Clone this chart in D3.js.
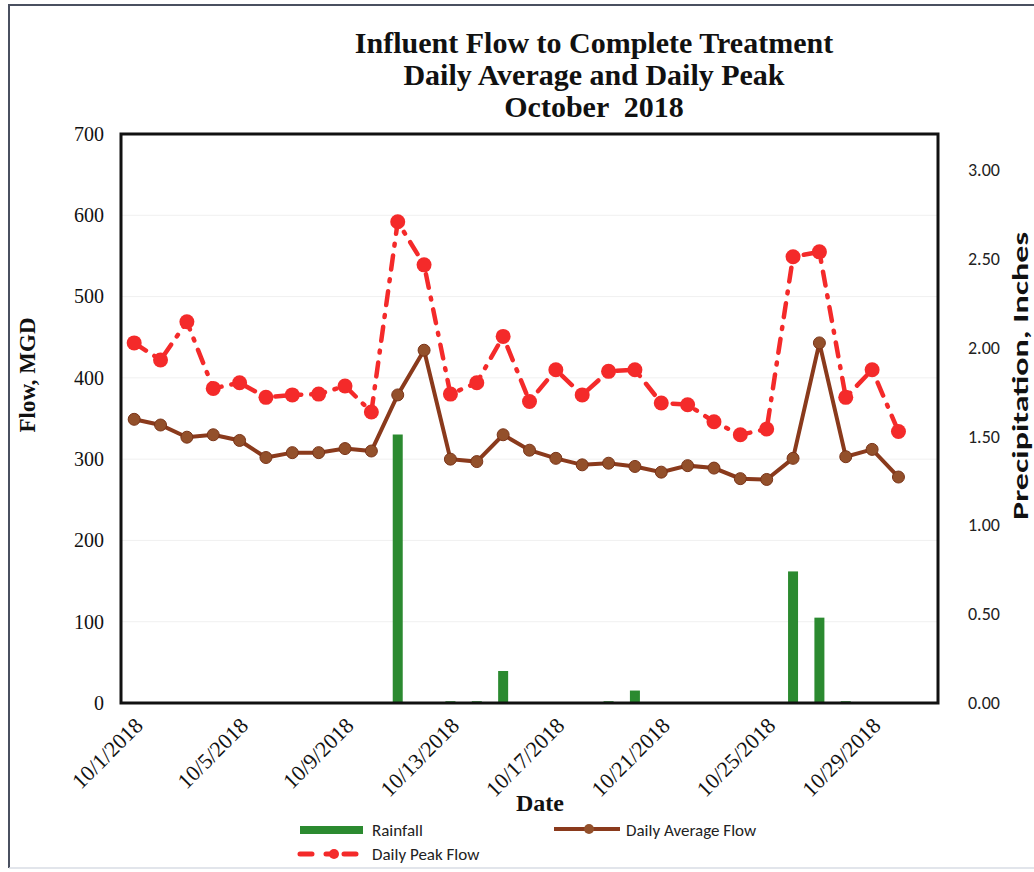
<!DOCTYPE html>
<html>
<head>
<meta charset="utf-8">
<script src="https://cdn.jsdelivr.net/npm/d3@7"></script>
<style>
  html, body { margin: 0; padding: 0; background: #fff; }
  svg { display: block; }
  text { white-space: pre; }
</style>
</head>
<body>
<svg id="chart" width="1034" height="872"></svg>
<script>
// ---- data ----
const dates = ["10/1/2018","10/2/2018","10/3/2018","10/4/2018","10/5/2018","10/6/2018","10/7/2018","10/8/2018","10/9/2018","10/10/2018",
  "10/11/2018","10/12/2018","10/13/2018","10/14/2018","10/15/2018","10/16/2018","10/17/2018","10/18/2018","10/19/2018","10/20/2018",
  "10/21/2018","10/22/2018","10/23/2018","10/24/2018","10/25/2018","10/26/2018","10/27/2018","10/28/2018","10/29/2018","10/30/2018","10/31/2018"];
const rainfall = [0,0,0,0,0,0,0,0,0,0, 1.51,0,0.01,0.01,0.18,0,0,0,0.01,0.07, 0,0,0,0,0,0.74,0.48,0.01,0,0,null];
const avgFlow = [349,342,327,330,323,302,308,308,313,310, 379,434,300,297,330,311,301,293,295,291, 284,292,289,276,275,301,443,303,312,278,null];
const peakFlow = [443,422,469,387,394,376,379,380,390,358, 592,539,380,394,451,371,410,379,408,410, 369,367,346,330,337,549,555,376,410,334,null];
const tickLabels = ["10/1/2018","10/5/2018","10/9/2018","10/13/2018","10/17/2018","10/21/2018","10/25/2018","10/29/2018"];
const leftTicks = [0,100,200,300,400,500,600,700];
const rightTicks = [0,0.5,1,1.5,2,2.5,3];
const titleLines = ["Influent Flow to Complete Treatment","Daily Average and Daily Peak","October  2018"];

// ---- layout ----
const svg = d3.select("#chart");
const L = 121, R = 938, T = 134, B = 703;
const serif = "'Liberation Serif','Times New Roman',serif";
const sans = "Carlito,'Liberation Sans Narrow','Open Sans',sans-serif";

const x = d3.scaleBand().domain(dates).range([L, R]).padding(0);
const yL = d3.scaleLinear().domain([0, 700]).range([B, T]);
const yR = d3.scaleLinear().domain([0, 3.2]).range([B, T]);
const cx = d => x(d) + x.bandwidth() / 2;

// outer frame
svg.append("path").attr("d", `M9,868 V5 H1040`).attr("fill", "none")
  .attr("stroke", "#4a5060").attr("stroke-width", 2);
svg.append("path").attr("d", `M9,868 H1040`).attr("fill", "none")
  .attr("stroke", "#d8dce4").attr("stroke-width", 1.5);

// title
svg.append("g").selectAll("text").data(titleLines).join("text")
  .attr("x", 594).attr("y", (d, i) => 53 + i * 32)
  .attr("text-anchor", "middle").attr("font-family", serif)
  .attr("font-weight", "bold").attr("font-size", 30).attr("fill", "#111")
  .text(d => d);

// gridlines
svg.append("g").selectAll("line").data(leftTicks.slice(1, -1)).join("line")
  .attr("x1", L).attr("x2", R).attr("y1", d => yL(d)).attr("y2", d => yL(d))
  .attr("stroke", "#f0f0f0").attr("stroke-width", 1);

// left axis
const axL = svg.append("g").attr("transform", `translate(${L},0)`)
  .call(d3.axisLeft(yL).tickValues(leftTicks).tickSize(0).tickPadding(17).tickFormat(d3.format("d")));
axL.select(".domain").remove();
axL.selectAll("text").attr("font-family", serif).attr("font-size", 20).attr("fill", "#111");

// right axis
const axR = svg.append("g").attr("transform", `translate(${R},0)`)
  .call(d3.axisRight(yR).tickValues(rightTicks).tickSize(0).tickPadding(30).tickFormat(d3.format(".2f")));
axR.select(".domain").remove();
axR.selectAll("text").attr("font-family", sans).attr("font-size", 18).attr("fill", "#222");

// x axis labels
const axX = svg.append("g").attr("transform", `translate(0,${B})`)
  .call(d3.axisBottom(x).tickValues(tickLabels).tickSize(0).tickPadding(0));
axX.select(".domain").remove();
axX.selectAll("text")
  .attr("font-family", serif).attr("font-size", 22).attr("fill", "#111")
  .attr("text-anchor", "end").attr("dy", 0)
  .attr("transform", "translate(10,24) rotate(-45)");

// axis titles
svg.append("text").attr("transform", "translate(35,375) rotate(-90)")
  .attr("text-anchor", "middle").attr("font-family", serif).attr("font-weight", "bold")
  .attr("font-size", 23).attr("fill", "#111").text("Flow, MGD");
svg.append("text").attr("transform", "translate(1028,376) rotate(-90)")
  .attr("text-anchor", "middle").attr("font-family", sans).attr("font-weight", "bold")
  .attr("font-size", 23).attr("textLength", 288).attr("lengthAdjust", "spacingAndGlyphs")
  .attr("fill", "#111").text("Precipitation, Inches");
svg.append("text").attr("x", 540).attr("y", 811).attr("text-anchor", "middle")
  .attr("font-family", serif).attr("font-weight", "bold").attr("font-size", 24)
  .attr("fill", "#111").text("Date");

// rainfall bars
const rainData = dates.map((d, i) => ({ d, v: rainfall[i] })).filter(o => o.v);
svg.append("g").selectAll("rect").data(rainData).join("rect")
  .attr("x", o => cx(o.d) - 5).attr("width", 10)
  .attr("y", o => yR(o.v)).attr("height", o => B - yR(o.v))
  .attr("fill", "#2b8a30");

// peak flow (dash-dot red)
const peakData = dates.map((d, i) => ({ d, v: peakFlow[i] })).filter(o => o.v != null);
const lineP = d3.line().x(o => cx(o.d)).y(o => yL(o.v));
svg.append("path").datum(peakData).attr("d", lineP).attr("fill", "none")
  .attr("stroke", "#f42a2a").attr("stroke-width", 4.5)
  .attr("stroke-dasharray", "14,10,2,10").attr("stroke-linecap", "round");
svg.append("g").selectAll("circle").data(peakData).join("circle")
  .attr("cx", o => cx(o.d)).attr("cy", o => yL(o.v)).attr("r", 7.5)
  .attr("fill", "#f42a2a");

// average flow (brown)
const avgData = dates.map((d, i) => ({ d, v: avgFlow[i] })).filter(o => o.v != null);
svg.append("path").datum(avgData).attr("d", lineP).attr("fill", "none")
  .attr("stroke", "#8a3a1c").attr("stroke-width", 4);
svg.append("g").selectAll("circle").data(avgData).join("circle")
  .attr("cx", o => cx(o.d)).attr("cy", o => yL(o.v)).attr("r", 6)
  .attr("fill", "#93502b").attr("stroke", "#7a3418").attr("stroke-width", 1);

// plot border
svg.append("rect").attr("x", L).attr("y", T).attr("width", R - L).attr("height", B - T)
  .attr("fill", "none").attr("stroke", "#111").attr("stroke-width", 3);

// legend
const lg = svg.append("g");
lg.append("rect").attr("x", 300).attr("y", 826).attr("width", 63).attr("height", 8).attr("fill", "#2b8a30");
lg.append("text").attr("x", 372).attr("y", 836).attr("font-family", sans).attr("font-size", 17)
  .attr("fill", "#222").text("Rainfall");
lg.append("line").attr("x1", 554).attr("x2", 620).attr("y1", 829).attr("y2", 829)
  .attr("stroke", "#8a3a1c").attr("stroke-width", 4);
lg.append("circle").attr("cx", 589).attr("cy", 829).attr("r", 5).attr("fill", "#93502b");
lg.append("text").attr("x", 626).attr("y", 836).attr("font-family", sans).attr("font-size", 17)
  .attr("fill", "#222").text("Daily Average Flow");
lg.append("line").attr("x1", 300).attr("x2", 365).attr("y1", 854).attr("y2", 854)
  .attr("stroke", "#f42a2a").attr("stroke-width", 5).attr("stroke-dasharray", "12,14,4,14")
  .attr("stroke-linecap", "round");
lg.append("circle").attr("cx", 334).attr("cy", 854).attr("r", 5).attr("fill", "#f42a2a");
lg.append("text").attr("x", 372).attr("y", 860).attr("font-family", sans).attr("font-size", 17)
  .attr("fill", "#222").text("Daily Peak Flow");
</script>
</body>
</html>
